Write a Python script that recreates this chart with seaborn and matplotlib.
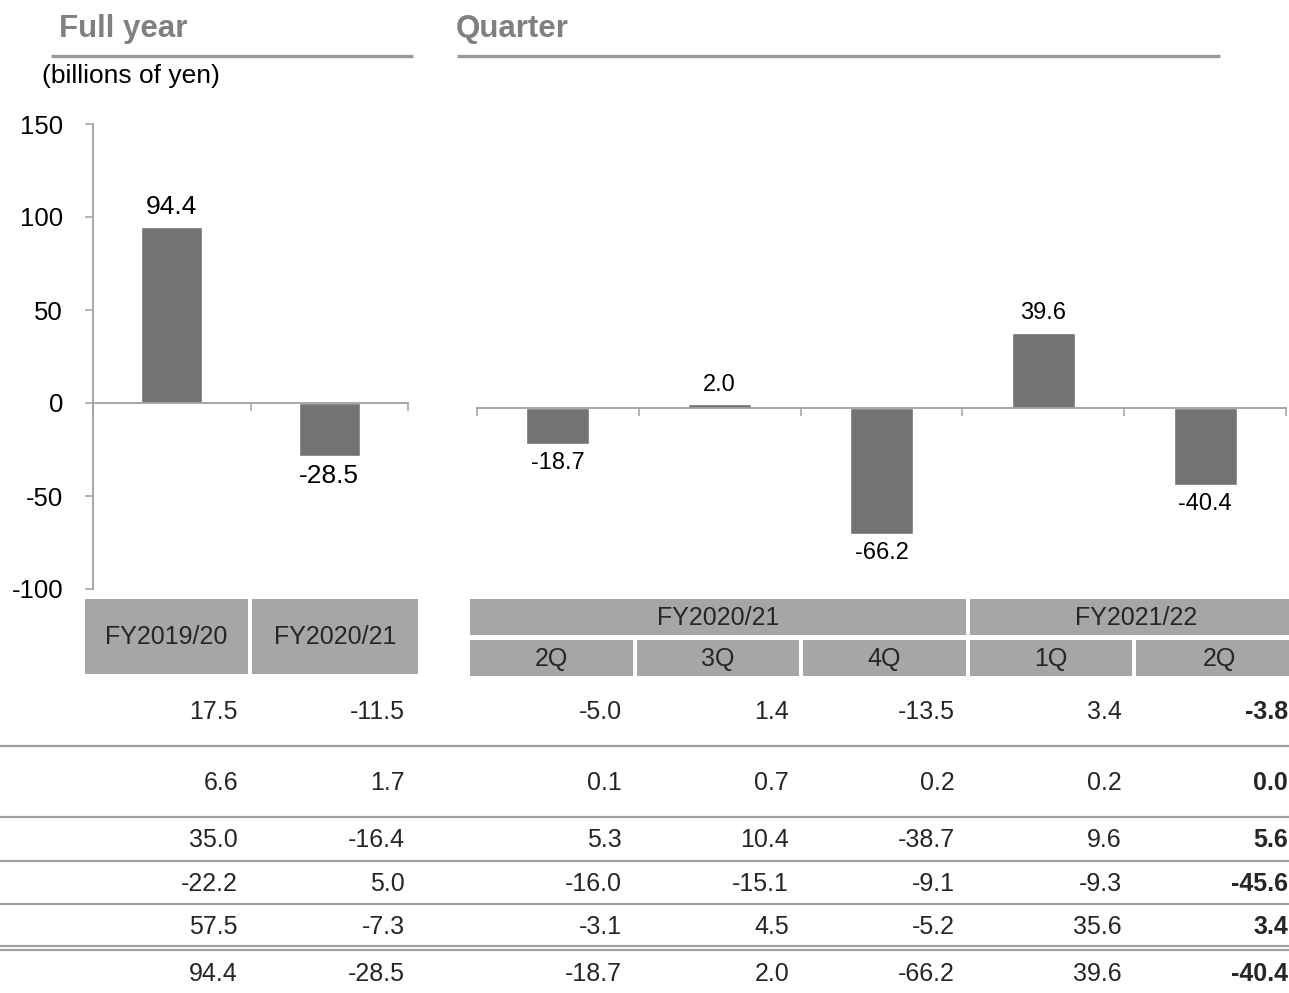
import matplotlib
matplotlib.use("Agg")
import matplotlib.pyplot as plt
import seaborn as sns
import pandas as pd
from matplotlib.patches import Rectangle

# -------------------------------- DATA --------------------------------

fy_labels = ["FY2019/20", "FY2020/21"]
fy_values = [94.4, -28.5]

q_years = ["FY2020/21", "FY2021/22"]
q_year_span = [3, 2]  # how many quarters each fiscal year covers
q_labels = ["2Q", "3Q", "4Q", "1Q", "2Q"]
q_keys = ["FY2020/21 2Q", "FY2020/21 3Q", "FY2020/21 4Q", "FY2021/22 1Q", "FY2021/22 2Q"]
q_values = [-18.7, 2.0, -66.2, 39.6, -40.4]

y_ticks = [-100, -50, 0, 50, 100, 150]

# table rows below the chart (full year x2, quarters x5); last row = totals
row_1 = [17.5, -11.5, -5.0, 1.4, -13.5, 3.4, -3.8]
row_2 = [6.6, 1.7, 0.1, 0.7, 0.2, 0.2, 0.0]
row_3 = [35.0, -16.4, 5.3, 10.4, -38.7, 9.6, 5.6]
row_4 = [-22.2, 5.0, -16.0, -15.1, -9.1, -9.3, -45.6]
row_5 = [57.5, -7.3, -3.1, 4.5, -5.2, 35.6, 3.4]
row_total = fy_values + q_values

df_fy = pd.DataFrame({"period": fy_labels, "value": fy_values})
df_q = pd.DataFrame({"period": q_keys, "value": q_values})

# ------------------------------ STYLE --------------------------------

sns.set_theme(style="white")
plt.rcParams["font.family"] = ["Liberation Sans", "DejaVu Sans"]

W, H = 1289, 993
BAR = "#737373"
AXIS = "#a0a0a0"
CELL = "#a6a6a6"
HEAD = "#808080"
FS = 18


def rect(x0, y0, x1, y1):
    # pixel box (top-left origin) -> figure fraction
    return [x0 / W, 1 - y1 / H, (x1 - x0) / W, (y1 - y0) / H]


fig = plt.figure(figsize=(W / 100, H / 100), dpi=100)

# overlay axes in pixel coordinates for headings and the table
ax_t = fig.add_axes([0, 0, 1, 1])
ax_t.set_xlim(0, W)
ax_t.set_ylim(H, 0)
ax_t.axis("off")

# ---------------------------- HEADINGS -------------------------------

ax_t.text(59, 29, "Full year", fontsize=22.5, fontweight="bold", color=HEAD, va="center")
ax_t.text(456, 29, "Quarter", fontsize=22.5, fontweight="bold", color=HEAD, va="center")
ax_t.plot([51, 413], [56, 56], color="#999999", lw=2.4, solid_capstyle="butt")
ax_t.plot([457, 1220], [56, 56], color="#999999", lw=2.4, solid_capstyle="butt")
ax_t.text(42, 76, "(billions of yen)", fontsize=19, color="black", va="center")

# ---------------------------- CHARTS ---------------------------------


def style_axis(ax, n, label_size):
    ax.set_facecolor("none")
    ax.set_ylim(y_ticks[0], y_ticks[-1])
    ax.set_xlim(-0.5, n - 0.5)
    ax.set_xlabel("")
    ax.set_ylabel("")
    ax.spines["top"].set_visible(False)
    ax.spines["right"].set_visible(False)
    ax.spines["bottom"].set_position(("data", 0))
    ax.spines["bottom"].set_color(AXIS)
    ax.spines["bottom"].set_linewidth(1.3)
    ax.spines["left"].set_color(AXIS)
    ax.spines["left"].set_linewidth(1.3)
    ax.set_xticks([i - 0.5 for i in range(n + 1)])
    ax.set_xticklabels([])
    ax.tick_params(axis="x", direction="out", length=5.5, width=1.1, color=AXIS,
                   bottom=True)
    for c in ax.containers:
        ax.bar_label(c, fmt="%.1f", padding=6, fontsize=label_size, color="black")


ax_fy = fig.add_axes(rect(93, 124, 408, 589))
sns.barplot(data=df_fy, x="period", y="value", color=BAR, width=0.39,
            saturation=1, ax=ax_fy)
style_axis(ax_fy, len(fy_labels), 19)
ax_fy.set_yticks(y_ticks)
ax_fy.set_yticklabels([str(t) for t in y_ticks])
ax_fy.tick_params(axis="y", direction="out", length=5.5, width=1.1, color=AXIS,
                  pad=16, labelsize=18.5, labelcolor="black", left=True)

ax_q = fig.add_axes(rect(477, 123, 1286, 598))
sns.barplot(data=df_q, x="period", y="value", color=BAR, width=0.39,
            saturation=1, ax=ax_q)
style_axis(ax_q, len(q_labels), 17)
ax_q.spines["left"].set_visible(False)
ax_q.set_yticks([])

# ---------------------------- TABLE ----------------------------------

# header cells
full_cells = [(85, 248), (252, 418)]
for (x0, x1), lab in zip(full_cells, fy_labels):
    ax_t.add_patch(Rectangle((x0, 599), x1 - x0, 75, color=CELL, lw=0))
    ax_t.text((x0 + x1) / 2, 637, lab, ha="center", va="center", fontsize=FS)

q_cells = [(470, 633), (637, 799), (803, 966), (970, 1132), (1136, 1303)]
for (x0, x1), lab in zip(q_cells, q_labels):
    ax_t.add_patch(Rectangle((x0, 640), x1 - x0, 36, color=CELL, lw=0))
    ax_t.text((x0 + x1) / 2, 659, lab, ha="center", va="center", fontsize=FS)

start = 0
for yr, span in zip(q_years, q_year_span):
    x0 = q_cells[start][0]
    x1 = q_cells[start + span - 1][1]
    ax_t.add_patch(Rectangle((x0, 599), x1 - x0, 36, color=CELL, lw=0))
    ax_t.text((x0 + x1) / 2, 618, yr, ha="center", va="center", fontsize=FS)
    start += span

# values
col_right = [238, 405, 622, 789, 955, 1122, 1288]
row_y = [712, 783, 840, 884, 927, 974]
rows = [row_1, row_2, row_3, row_4, row_5, row_total]
for y, vals in zip(row_y, rows):
    for j, (x, v) in enumerate(zip(col_right, vals)):
        ax_t.text(x, y, f"{v:.1f}", ha="right", va="center", fontsize=FS,
                  fontweight="bold" if j == len(vals) - 1 else "normal")

for y in [746, 817, 861, 904, 946, 950]:
    ax_t.plot([0, W], [y, y], color=AXIS, lw=1.6)

fig.savefig("out.png", dpi=100)
